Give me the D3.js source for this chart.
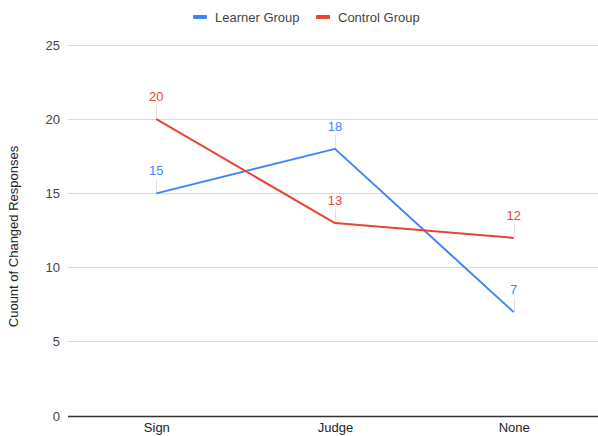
<!DOCTYPE html>
<html><head><meta charset="utf-8">
<script src="https://cdn.jsdelivr.net/npm/d3@7"></script>
<style>body{margin:0;background:#fff;font-family:"Liberation Sans",Arial,sans-serif}</style>
</head><body><svg id="c" width="598" height="436"></svg>
<script>
const categories = ["Sign", "Judge", "None"];
const learnerValues = [15, 18, 7];
const controlValues = [20, 13, 12];
const seriesNames = ["Learner Group", "Control Group"];
const seriesColors = ["#4285F4", "#EA4335"];
const yTicks = [0, 5, 10, 15, 20, 25];

const FONT = '"Liberation Sans", Arial, sans-serif';
const svg = d3.select("#c").style("font-family", FONT);
const mLeft = 68, mRight = 598, mTop = 45, mBottom = 416;
const x = d3.scalePoint().domain(categories).range([67, 603]).padding(0.5);
const y = d3.scaleLinear().domain([0, 25]).range([mBottom, mTop]);

// gridlines
svg.append("g").selectAll("line").data(yTicks.filter(d => d > 0)).join("line")
  .attr("x1", mLeft).attr("x2", mRight).attr("y1", d => y(d)).attr("y2", d => y(d))
  .attr("stroke", "#d9d9d9").attr("stroke-width", 1).attr("shape-rendering", "crispEdges");

// y axis labels
const yAxis = svg.append("g").attr("transform", `translate(${mLeft},0)`)
  .call(d3.axisLeft(y).tickValues(yTicks).tickSize(0).tickPadding(8));
yAxis.select(".domain").remove();
yAxis.selectAll("text").attr("font-size", 13).attr("fill", "#444").attr("font-family", FONT);

// x axis
const xAxis = svg.append("g").attr("transform", `translate(0,${mBottom})`)
  .call(d3.axisBottom(x).tickSize(0).tickPadding(7));
xAxis.select(".domain").attr("d", `M${mLeft},0.5H${mRight}`).attr("stroke", "#333").attr("stroke-width", 1.3);
xAxis.selectAll("text").attr("font-size", 13).attr("fill", "#222").attr("font-family", FONT);

// y title
svg.append("text").attr("transform", `translate(18,${(mTop + mBottom) / 2 + 6}) rotate(-90)`)
  .attr("text-anchor", "middle").attr("font-size", 13).attr("fill", "#222")
  .text("Cuount of Changed Responses");

const series = [learnerValues, controlValues];
const line = d3.line().x((d, i) => x(categories[i])).y(d => y(d));

series.forEach((vals, si) => {
  svg.append("g").selectAll("line").data(vals).join("line")
    .attr("x1", (d, i) => Math.round(x(categories[i])) + 0.5).attr("x2", (d, i) => Math.round(x(categories[i])) + 0.5)
    .attr("y1", d => y(d)).attr("y2", d => y(d) - 14)
    .attr("stroke", "#e0e0e0").attr("stroke-width", 1);
});
series.forEach((vals, si) => {
  svg.append("path").datum(vals).attr("d", line).attr("fill", "none")
    .attr("stroke", seriesColors[si]).attr("stroke-width", 2).attr("stroke-linejoin", "round");
});
series.forEach((vals, si) => {
  svg.append("g").selectAll("text").data(vals).join("text")
    .attr("x", (d, i) => x(categories[i])).attr("y", d => y(d) - 18)
    .attr("text-anchor", "middle").attr("font-size", 13).attr("fill", seriesColors[si])
    .text(d => d);
});

// legend
const legendItems = [{ x: 193, name: seriesNames[0], c: seriesColors[0] }, { x: 316, name: seriesNames[1], c: seriesColors[1] }];
const lg = svg.append("g");
legendItems.forEach(it => {
  lg.append("rect").attr("x", it.x).attr("y", 15).attr("width", 14).attr("height", 4).attr("rx", 1).attr("fill", it.c);
  lg.append("text").attr("x", it.x + 22).attr("y", 21.5).attr("font-size", 13).attr("fill", "#444").text(it.name);
});
</script></body></html>
